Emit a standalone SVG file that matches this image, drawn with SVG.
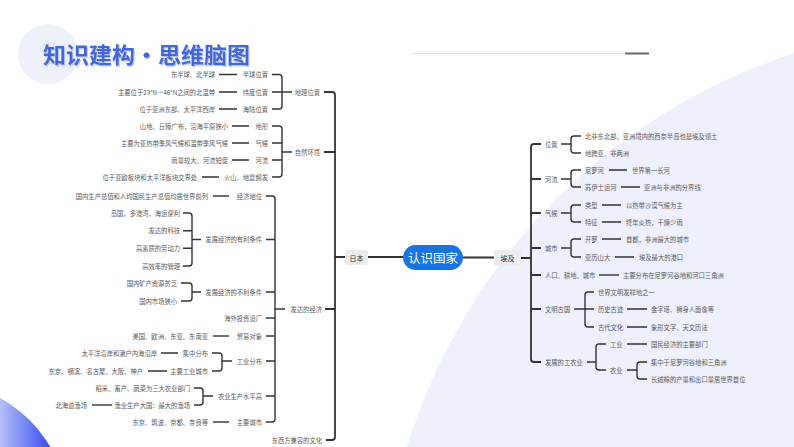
<svg xmlns="http://www.w3.org/2000/svg" width="794" height="447" viewBox="0 0 794 447">
<defs>
<linearGradient id="blueBall" x1="0" y1="0" x2="60" y2="0" gradientUnits="userSpaceOnUse">
<stop offset="0" stop-color="#b3c0f8"/>
<stop offset="1" stop-color="#2238ef"/>
</linearGradient>
<filter id="tshadow" x="-5%" y="-20%" width="110%" height="150%">
<feDropShadow dx="1" dy="1.3" stdDeviation="0.4" flood-color="#b9c6f3" flood-opacity="1"/>
</filter>
<style>
.t{font-family:"Noto Sans CJK SC","Noto Sans",sans-serif;font-size:6.3px;fill:#5a5a5a;dominant-baseline:central}
.e{text-anchor:end}
.ln{stroke:#333;stroke-width:1.4;fill:none}
.mb{stroke:#333;stroke-width:1.8;fill:none}
.box{fill:#ececec}
</style>
</defs>
<rect width="794" height="447" fill="#ffffff"/>
<path d="M794,53 A600,600 0 0 0 407,447 L794,447 Z" fill="#eef0fb"/>
<circle cx="48" cy="54" r="30" fill="#eef0fa"/>
<circle cx="-60" cy="510" r="127" fill="url(#blueBall)"/>
<g id="title">
<text x="43" y="63" font-family="'Noto Sans CJK SC',sans-serif" font-size="22" font-weight="bold" fill="#3f66dc" textLength="207" lengthAdjust="spacingAndGlyphs" filter="url(#tshadow)">知识建构·思维脑图</text>
</g>
<line x1="412" y1="53.5" x2="625" y2="53.5" stroke="#e2e2e2" stroke-width="1"/>
<line x1="625" y1="53.5" x2="649" y2="53.5" stroke="#666" stroke-width="2"/>

<g id="connectors">
<path class="mb" d="M368,257 H403 M463,257.5 H494"/>
<path class="mb" d="M324,92 H332 Q335,92 335,95 V437 Q335,440 332,440 H326 M335,257 H345 M324,152 H335 M325,309 H335"/>
<path class="ln" d="M272,74.5 H279 Q282,74.5 282,77.5 V106 Q282,109 279,109 H272 M272,92 H292"/>
<path class="ln" d="M219,74.5 H237 M219,92 H237 M219,109 H237"/>
<path class="ln" d="M272,126 H279 Q282,126 282,129 V174 Q282,177 279,177 H272 M272,143 H282 M272,160 H282 M282,152 H292"/>
<path class="ln" d="M232,126 H249 M232,143 H249 M232,160 H249 M202,177 H219"/>
<path class="ln" d="M266,196 H272 Q275,196 275,199 V419 Q275,422 272,422 H266 M266,239.5 H275 M266,292 H275 M266,318 H275 M266,336 H275 M266,361 H275 M266,396 H275 M275,309 H285"/>
<path class="ln" d="M213,196 H229"/>
<path class="ln" d="M183,213 H189 Q192,213 192,216 V263 Q192,266 189,266 H183 M183,230.7 H192 M183,248.3 H192 M192,239.5 H201"/>
<path class="ln" d="M181,283 H189 Q192,283 192,286 V298 Q192,301 189,301 H181 M192,292 H201"/>
<path class="ln" d="M213,336 H229"/>
<path class="ln" d="M212,353 H219 Q222,353 222,356 V368 Q222,371 219,371 H212 M222,361 H232"/>
<path class="ln" d="M161,353 H178 M148,371 H167"/>
<path class="ln" d="M194,388 H200 Q203,388 203,391 V402 Q203,405 200,405 H194 M203,396 H213"/>
<path class="ln" d="M92,405 H112"/>
<path class="ln" d="M213,422 H229"/>
<path class="mb" d="M541,144 H534 Q531,144 531,147 V359 Q531,362 534,362 H541 M531,179 H541 M531,213 H541 M531,248 H541 M531,275 H541 M531,309 H541 M521,258 H531"/>
<path class="ln" d="M561,144 H571 M581,136 H574 Q571,136 571,139 V150 Q571,153 574,153 H581"/>
<path class="ln" d="M561,179 H571 M581,170 H574 Q571,170 571,173 V184 Q571,187 574,187 H581"/>
<path class="ln" d="M609,170 H627 M621,187 H640"/>
<path class="ln" d="M561,213 H571 M581,205 H574 Q571,205 571,208 V219 Q571,222 574,222 H581"/>
<path class="ln" d="M602,205 H621 M602,222 H621"/>
<path class="ln" d="M561,248 H571 M581,239 H574 Q571,239 571,242 V254 Q571,257 574,257 H581"/>
<path class="ln" d="M602,239 H621 M615,257 H634"/>
<path class="ln" d="M599,275 H619"/>
<path class="ln" d="M574,309 H594 M594,292 H588 Q585,292 585,295 V324 Q585,327 588,327 H594"/>
<path class="ln" d="M627,309 H647 M627,327 H647"/>
<path class="ln" d="M587,362 H596 M606,344 H599 Q596,344 596,347 V367 Q596,370 599,370 H606"/>
<path class="ln" d="M627,344 H647 M627,370 H637 M647,362 H640 Q637,362 637,365 V376 Q637,379 640,379 H647"/>
</g>

<g id="center">
<rect x="403" y="245" width="60" height="25" rx="12.5" fill="#1674e6"/>
<text x="433" y="257.5" text-anchor="middle" dominant-baseline="central" font-family="'Noto Sans CJK SC',sans-serif" font-size="12.5" fill="#ffffff">认识国家</text>
</g>
<g id="jp"><rect class="box" x="345" y="250" width="23" height="15" rx="2"/><text class="t" x="356.5" y="257.5" text-anchor="middle" style="fill:#333;font-size:7px">日本</text></g>
<g id="eg"><rect class="box" x="494" y="250" width="27" height="16" rx="2"/><text class="t" x="507.5" y="258" text-anchor="middle" style="fill:#333;font-size:7px">埃及</text></g>

<g id="jp1"><text class="t e" x="320" y="92">地理位置</text></g>
<g id="jp1a"><text class="t e" x="268" y="74.5">半球位置</text></g>
<g id="jp1a1"><text class="t e" x="215" y="74.5">东半球、北半球</text></g>
<g id="jp1b"><text class="t e" x="268" y="92">纬度位置</text></g>
<g id="jp1b1"><text class="t e" x="215" y="92">主要位于23°N－46°N之间的北温带</text></g>
<g id="jp1c"><text class="t e" x="268" y="109">海陆位置</text></g>
<g id="jp1c1"><text class="t e" x="215" y="109">位于亚洲东部、太平洋西岸</text></g>

<g id="jp2"><text class="t e" x="320" y="152">自然环境</text></g>
<g id="jp2a"><text class="t e" x="268" y="126">地形</text></g>
<g id="jp2a1"><text class="t e" x="228" y="126">山地、丘陵广布，沿海平原狭小</text></g>
<g id="jp2b"><text class="t e" x="268" y="143">气候</text></g>
<g id="jp2b1"><text class="t e" x="228" y="143">主要为亚热带季风气候和温带季风气候</text></g>
<g id="jp2c"><text class="t e" x="268" y="160">河流</text></g>
<g id="jp2c1"><text class="t e" x="228" y="160">雨量较大、河流短促</text></g>
<g id="jp2d"><text class="t e" x="268" y="177">火山、地震频发</text></g>
<g id="jp2d1"><text class="t e" x="197" y="177">位于亚欧板块和太平洋板块交界处</text></g>

<g id="jp3"><text class="t e" x="322" y="309">发达的经济</text></g>
<g id="jp3a"><text class="t e" x="262" y="196">经济地位</text></g>
<g id="jp3a1"><text class="t e" x="208" y="196">国内生产总值和人均国民生产总值均居世界前列</text></g>
<g id="jp3b"><text class="t e" x="262" y="239.5">发展经济的有利条件</text></g>
<g id="jp3b1"><text class="t e" x="180" y="213">岛国，多港湾，海运便利</text></g>
<g id="jp3b2"><text class="t e" x="180" y="230.7">发达的科技</text></g>
<g id="jp3b3"><text class="t e" x="180" y="248.3">高素质的劳动力</text></g>
<g id="jp3b4"><text class="t e" x="180" y="266">高效率的管理</text></g>
<g id="jp3c"><text class="t e" x="262" y="292">发展经济的不利条件</text></g>
<g id="jp3c1"><text class="t e" x="177" y="283">国内矿产资源贫乏</text></g>
<g id="jp3c2"><text class="t e" x="177" y="301">国内市场狭小</text></g>
<g id="jp3d"><text class="t e" x="262" y="318">海外投资设厂</text></g>
<g id="jp3e"><text class="t e" x="262" y="336">贸易对象</text></g>
<g id="jp3e1"><text class="t e" x="208" y="336">美国、欧洲、东亚、东南亚</text></g>
<g id="jp3f"><text class="t e" x="262" y="361">工业分布</text></g>
<g id="jp3f1"><text class="t e" x="208" y="353">集中分布</text></g>
<g id="jp3f1a"><text class="t e" x="157" y="353">太平洋沿岸和濑户内海沿岸</text></g>
<g id="jp3f2"><text class="t e" x="208" y="371">主要工业城市</text></g>
<g id="jp3f2a"><text class="t e" x="143" y="371">东京、横滨、名古屋、大阪、神户</text></g>
<g id="jp3g"><text class="t e" x="262" y="396">农业生产水平高</text></g>
<g id="jp3g1"><text class="t e" x="190" y="388">稻米、畜产、蔬菜为三大农业部门</text></g>
<g id="jp3g2"><text class="t e" x="190" y="405">渔业生产大国：最大的渔场</text></g>
<g id="jp3g2a"><text class="t e" x="87" y="405">北海道渔场</text></g>
<g id="jp3h"><text class="t e" x="262" y="422">主要城市</text></g>
<g id="jp3h1"><text class="t e" x="208" y="422">东京、筑波、京都、奈良等</text></g>
<g id="jp4"><text class="t e" x="322" y="440">东西方兼容的文化</text></g>

<g id="eg1"><text class="t" x="545" y="144">位置</text></g>
<g id="eg1a"><text class="t" x="585" y="136">北非东北部，亚洲境内的西奈半岛也是埃及领土</text></g>
<g id="eg1b"><text class="t" x="585" y="153">地跨亚、非两洲</text></g>
<g id="eg2"><text class="t" x="545" y="179">河流</text></g>
<g id="eg2a"><text class="t" x="585" y="170">尼罗河</text></g>
<g id="eg2a1"><text class="t" x="632" y="170">世界第一长河</text></g>
<g id="eg2b"><text class="t" x="585" y="187">苏伊士运河</text></g>
<g id="eg2b1"><text class="t" x="644" y="187">亚洲与非洲的分界线</text></g>
<g id="eg3"><text class="t" x="545" y="213">气候</text></g>
<g id="eg3a"><text class="t" x="585" y="205">类型</text></g>
<g id="eg3a1"><text class="t" x="626" y="205">以热带沙漠气候为主</text></g>
<g id="eg3b"><text class="t" x="585" y="222">特征</text></g>
<g id="eg3b1"><text class="t" x="626" y="222">终年炎热，干燥少雨</text></g>
<g id="eg4"><text class="t" x="545" y="248">城市</text></g>
<g id="eg4a"><text class="t" x="585" y="239">开罗</text></g>
<g id="eg4a1"><text class="t" x="626" y="239">首都，非洲最大的城市</text></g>
<g id="eg4b"><text class="t" x="585" y="257">亚历山大</text></g>
<g id="eg4b1"><text class="t" x="639" y="257">埃及最大的港口</text></g>
<g id="eg5"><text class="t" x="545" y="275">人口、耕地、城市</text></g>
<g id="eg5a"><text class="t" x="623" y="275">主要分布在尼罗河谷地和河口三角洲</text></g>
<g id="eg6"><text class="t" x="545" y="309">文明古国</text></g>
<g id="eg6a"><text class="t" x="598" y="292">世界文明发祥地之一</text></g>
<g id="eg6b"><text class="t" x="598" y="309">历史古迹</text></g>
<g id="eg6b1"><text class="t" x="651" y="309">金字塔、狮身人面像等</text></g>
<g id="eg6c"><text class="t" x="598" y="327">古代文化</text></g>
<g id="eg6c1"><text class="t" x="651" y="327">象形文字、天文历法</text></g>
<g id="eg7"><text class="t" x="545" y="362">发展的工农业</text></g>
<g id="eg7a"><text class="t" x="610" y="344">工业</text></g>
<g id="eg7a1"><text class="t" x="651" y="344">国民经济的主要部门</text></g>
<g id="eg7b"><text class="t" x="610" y="370">农业</text></g>
<g id="eg7b1"><text class="t" x="651" y="362">集中于尼罗河谷地和三角洲</text></g>
<g id="eg7b2"><text class="t" x="651" y="379">长绒棉的产量和出口量居世界首位</text></g>
</svg>
